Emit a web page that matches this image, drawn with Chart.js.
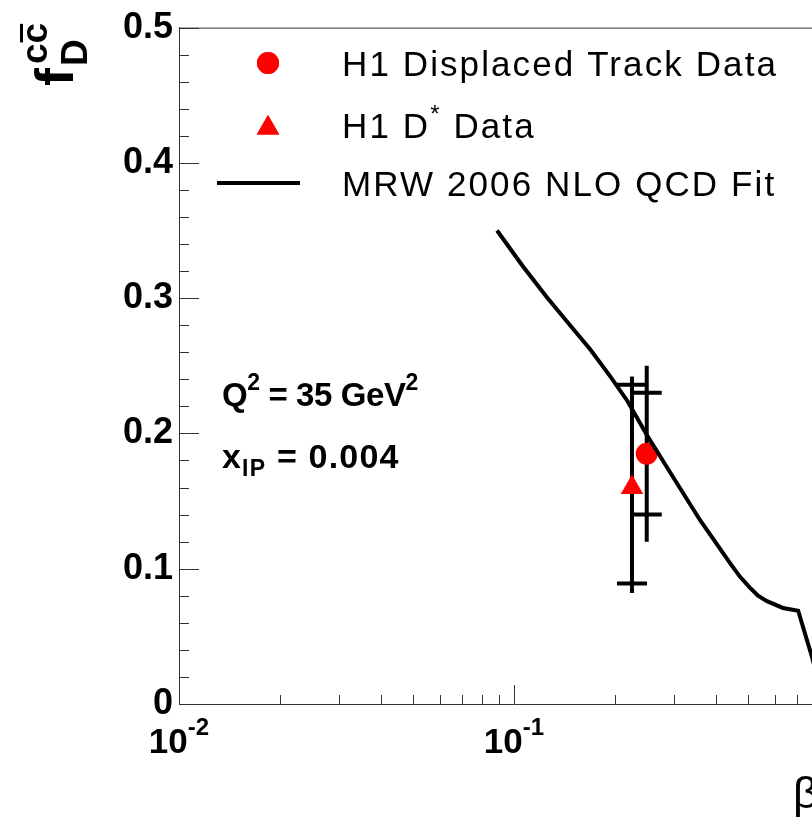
<!DOCTYPE html>
<html>
<head>
<meta charset="utf-8">
<script src="https://cdn.jsdelivr.net/npm/chart.js@4"></script>
<style>
  html, body { margin: 0; padding: 0; background: #fff; overflow: hidden; }
  #wrap { width: 900px; height: 827px; }
</style>
</head>
<body>
<div id="wrap"><canvas id="chart"></canvas></div>
<script>
"use strict"

// MRW 2006 NLO QCD fit
const fitBeta  = [0.089, 0.106, 0.125, 0.147, 0.169, 0.194, 0.218, 0.249, 0.298, 0.359, 0.442, 0.473, 0.506, 0.535, 0.569, 0.635, 0.705, 0.775, 0.80];
const fitValue = [0.350, 0.324, 0.301, 0.280, 0.262, 0.242, 0.224, 0.199, 0.168, 0.136, 0.104, 0.094, 0.086, 0.080, 0.076, 0.071, 0.069, 0.035, 0.022];

// H1 displaced track data
const trackBeta  = [0.249];
const trackValue = [0.185];
const trackStat  = [0.045];
const trackTotal = [0.065];

// H1 D* data
const dstarBeta      = [0.225];
const dstarValue     = [0.160];
const dstarStatUp    = [0.076];
const dstarStatDown  = [0.071];
const dstarTotUp     = [0.082];
const dstarTotDown   = [0.078];

// axis labels
const yTickLabels = ['0', '0.1', '0.2', '0.3', '0.4', '0.5'];
const xTickValues = [0.01, 0.1, 1];
const xTickExponents = ['-2', '-1', '0'];

const FONT = '"Liberation Sans", Arial, Helvetica, sans-serif';
const RED = '#ff0000';

function drawParts(ctx, x, y, parts) {
    for (const p of parts) {
        ctx.font = p.font;
        ctx.fillText(p.text, x, y + (p.dy || 0));
        x += ctx.measureText(p.text).width;
    }
    return x;
}

function measureParts(ctx, parts) {
    let w = 0;
    for (const p of parts) {
        ctx.font = p.font;
        w += ctx.measureText(p.text).width;
    }
    return w;
}

// error bars: full bar for total error, small cross bars at the stat error
const errorBarPlugin = {
    id: 'errorBars',
    beforeDatasetsDraw(chart) {
        const { ctx, scales: { x, y } } = chart;
        ctx.save();
        ctx.strokeStyle = '#000';
        ctx.lineWidth = 4;
        const bar = (bx, val, totUp, totDown, statUp, statDown) => {
            const px = x.getPixelForValue(bx);
            ctx.beginPath();
            ctx.moveTo(px, y.getPixelForValue(val + totUp));
            ctx.lineTo(px, y.getPixelForValue(val - totDown));
            const cu = y.getPixelForValue(val + statUp);
            const cd = y.getPixelForValue(val - statDown);
            ctx.moveTo(px - 15, cu); ctx.lineTo(px + 15, cu);
            ctx.moveTo(px - 15, cd); ctx.lineTo(px + 15, cd);
            ctx.stroke();
        };
        dstarBeta.forEach((b, i) => bar(b, dstarValue[i], dstarTotUp[i], dstarTotDown[i], dstarStatUp[i], dstarStatDown[i]));
        trackBeta.forEach((b, i) => bar(b, trackValue[i], trackTotal[i], trackTotal[i], trackStat[i], trackStat[i]));
        ctx.restore();
    }
};

// frame, inward ticks, tick labels, titles, legend and text
const decorPlugin = {
    id: 'decor',
    afterDraw(chart) {
        const { ctx, chartArea: a, scales: { x, y } } = chart;
        ctx.save();
        ctx.strokeStyle = '#333';
        ctx.lineWidth = 1;
        ctx.beginPath();
        ctx.moveTo(a.left, a.top + 0.5);
        ctx.lineTo(a.right, a.top + 0.5);
        // y ticks
        for (let k = 0; k <= 25; k++) {
            const py = Math.round(y.getPixelForValue(k * 0.02)) + 0.5;
            const len = k % 5 === 0 ? 20 : 10;
            ctx.moveTo(a.left, py);
            ctx.lineTo(a.left + len, py);
        }
        // x ticks
        for (let d = 0; d < xTickValues.length; d++) {
            const dec = xTickValues[d];
            const px = Math.round(x.getPixelForValue(dec)) + 0.5;
            ctx.moveTo(px, a.bottom);
            ctx.lineTo(px, a.bottom - 19);
            if (d < xTickValues.length - 1) {
                for (let m = 2; m <= 9; m++) {
                    const mx = Math.round(x.getPixelForValue(m * dec)) + 0.5;
                    ctx.moveTo(mx, a.bottom);
                    ctx.lineTo(mx, a.bottom - 9);
                }
            }
        }
        ctx.stroke();

        ctx.fillStyle = '#000';
        ctx.textAlign = 'left';
        ctx.textBaseline = 'alphabetic';

        // x tick labels 10^n
        xTickValues.forEach((v, i) => {
            const parts = [
                { text: '10', font: 'bold 35px ' + FONT },
                { text: xTickExponents[i], font: 'bold 24px ' + FONT, dy: -18 }
            ];
            const w = measureParts(ctx, parts);
            drawParts(ctx, x.getPixelForValue(v) - w / 2, 753, parts);
        });

        // x title
        ctx.font = '44px ' + FONT;
        ctx.fillText('β', 793, 808);

        // y title f_D^{c cbar}
        ctx.save();
        ctx.translate(73, 86);
        ctx.rotate(-Math.PI / 2);
        ctx.font = 'bold 54px ' + FONT;
        ctx.fillText('f', 0, 0);
        ctx.font = 'bold 37px ' + FONT;
        ctx.fillText('D', 20, 14);
        ctx.fillText('cc', 22, -26);
        const cw = ctx.measureText('c').width;
        ctx.fillRect(22 + cw + 1, -53, cw - 2, 3);
        ctx.restore();

        // legend
        ctx.fillStyle = RED;
        Chart.helpers.drawPoint(ctx, { pointStyle: 'circle', radius: 11, borderWidth: 0 }, 268, 63);
        ctx.fill();
        Chart.helpers.drawPoint(ctx, { pointStyle: 'triangle', radius: 13, borderWidth: 0 }, 268, 128);
        ctx.fill();
        ctx.strokeStyle = '#000';
        ctx.lineWidth = 4;
        ctx.beginPath();
        ctx.moveTo(217, 183);
        ctx.lineTo(300, 183);
        ctx.stroke();

        ctx.fillStyle = '#000';
        ctx.letterSpacing = '2.1px';
        const lf = '35px ' + FONT;
        drawParts(ctx, 342, 76, [{ text: 'H1 Displaced Track Data', font: lf }]);
        drawParts(ctx, 342, 138, [
            { text: 'H1 D', font: lf },
            { text: '*', font: '24px ' + FONT, dy: -16 },
            { text: ' Data', font: lf }
        ]);
        drawParts(ctx, 342, 196, [{ text: 'MRW 2006 NLO QCD Fit', font: lf }]);

        // kinematics text
        const sf = 'bold 23px ' + FONT;
        ctx.letterSpacing = '-0.4px';
        drawParts(ctx, 222, 406, [
            { text: 'Q', font: 'bold 33px ' + FONT },
            { text: '2', font: sf, dy: -16 },
            { text: ' = 35 GeV', font: 'bold 33px ' + FONT },
            { text: '2', font: sf, dy: -16 }
        ]);
        ctx.letterSpacing = '1.2px';
        drawParts(ctx, 222, 468, [
            { text: 'x', font: 'bold 34px ' + FONT },
            { text: 'IP', font: sf, dy: 8 },
            { text: ' = 0.004', font: 'bold 34px ' + FONT }
        ]);
        ctx.letterSpacing = '0px';
        ctx.restore();
    }
};

new Chart(document.getElementById('chart'), {
    type: 'scatter',
    data: {
        datasets: [
            {
                label: 'MRW 2006 NLO QCD Fit',
                data: fitBeta.map((b, i) => ({ x: b, y: fitValue[i] })),
                showLine: true,
                borderColor: '#000',
                borderWidth: 4,
                pointRadius: 0,
                tension: 0
            },
            {
                label: 'H1 Displaced Track Data',
                data: trackBeta.map((b, i) => ({ x: b, y: trackValue[i] })),
                pointStyle: 'circle',
                pointRadius: 11,
                backgroundColor: RED,
                borderWidth: 0
            },
            {
                label: 'H1 D* Data',
                data: dstarBeta.map((b, i) => ({ x: b, y: dstarValue[i] })),
                pointStyle: 'triangle',
                pointRadius: 13,
                backgroundColor: RED,
                borderWidth: 0
            }
        ]
    },
    options: {
        responsive: true,
        maintainAspectRatio: false,
        animation: false,
        layout: { padding: { top: 25, right: 51, left: 0, bottom: 0 } },
        plugins: {
            legend: { display: false },
            tooltip: { enabled: false }
        },
        scales: {
            x: {
                type: 'logarithmic',
                min: 0.01,
                max: 1,
                grid: { display: false, drawTicks: false },
                border: { display: true, color: '#333', width: 1 },
                ticks: { display: false },
                afterFit: s => { s.height = 123; }
            },
            y: {
                type: 'linear',
                min: 0,
                max: 0.5,
                grid: { display: false, drawTicks: false },
                border: { display: true, color: '#333', width: 1 },
                ticks: {
                    stepSize: 0.1,
                    padding: 6,
                    color: '#000',
                    font: { family: FONT, size: 36, weight: 'bold' },
                    callback: (v, i) => yTickLabels[i]
                },
                afterFit: s => { s.width = 179; }
            }
        }
    },
    plugins: [errorBarPlugin, decorPlugin]
});
</script>
</body>
</html>
